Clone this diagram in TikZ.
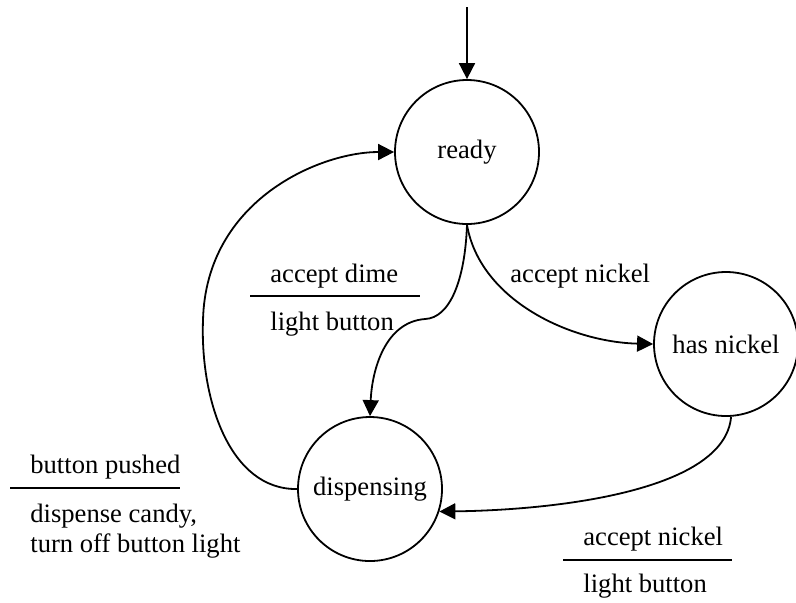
\documentclass[tikz,border=0pt]{standalone}
\usepackage{fontspec}
\setmainfont{Liberation Serif}
\usetikzlibrary{arrows.meta}
\begin{document}
\begin{tikzpicture}[x=0.5pt,y=-0.5pt,
  state/.style={draw,circle,line width=0.9pt,minimum size=72pt,inner sep=0pt},
  trans/.style={line width=0.9pt,-{Triangle[length=8pt,width=8pt]}},
  lbl/.style={inner sep=0pt,anchor=base west},
  sep/.style={line width=1pt},
  font=\fontsize{13.3}{16}\selectfont]
\useasboundingbox (0,0) rectangle (796,602);
\node[state] (ready) at (467,152) {ready};
\node[state] (hasnickel) at (726,344) {has nickel};
\node[state] (dispensing) at (370,489) {dispensing};
\coordinate (start) at (467,7);
% transitions
\draw[trans] (start) -- (ready.north);
\draw[trans] (ready.south) .. controls (465,280) and (450,318) .. (425,319)
   .. controls (385,322) and (372,370) .. (dispensing.north);
\draw[trans] (ready.south) .. controls (480,300) and (570,342) .. (hasnickel.west);
\draw[trans] (hasnickel.-86) .. controls (725,490) and (560,510) .. (dispensing.-18);
\draw[trans] (dispensing.west) .. controls (230,490) and (200,400) .. (203,320)
   .. controls (206,200) and (320,152) .. (ready.west);
% labels
\node[lbl] (ad) at (270,282) {accept dime};
\draw[sep] (250,296) -- (420,296);
\node[lbl] (lb1) at (270,330) {light button};
\node[lbl] (an1) at (510,282) {accept nickel};
\node[lbl] (bp) at (30,473) {button pushed};
\draw[sep] (10,488) -- (180,488);
\node[lbl] (dc) at (30,522) {dispense candy,};
\node[lbl] (tob) at (30,552) {turn off button light};
\node[lbl] (an2) at (583,545) {accept nickel};
\draw[sep] (563,560) -- (732,560);
\node[lbl] (lb2) at (583,592) {light button};
\end{tikzpicture}
\end{document}
